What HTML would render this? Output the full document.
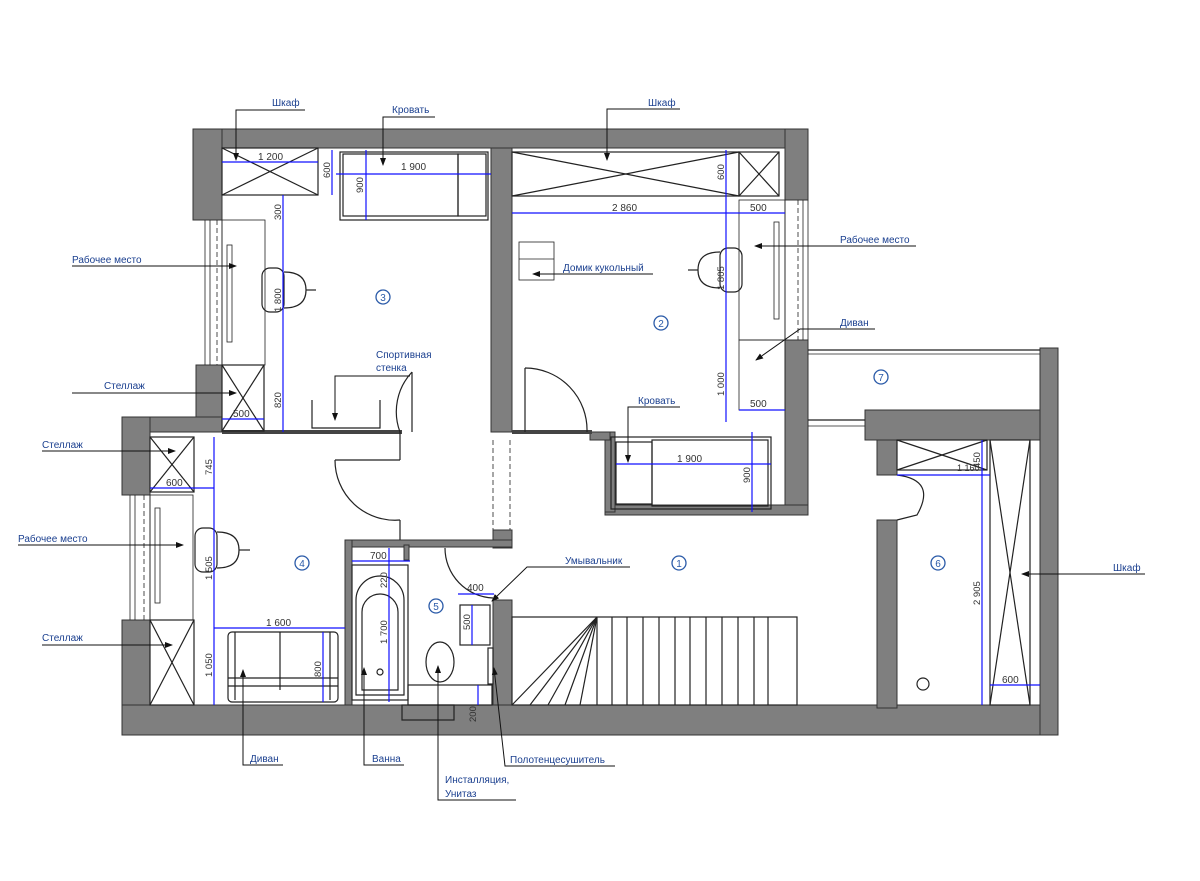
<!DOCTYPE html>
<html><head><meta charset="utf-8"><style>
html,body{margin:0;padding:0;background:#fff;}
svg{display:block;}
text{font-family:"Liberation Sans",sans-serif;}
.w{fill:#7f7f7f;stroke:#333;stroke-width:1;}
.l{fill:none;stroke:#222;stroke-width:1.2;}
.t{fill:none;stroke:#222;stroke-width:0.8;}
.d{stroke:#1010ff;stroke-width:1.2;fill:none;}
.dt{font-size:10px;fill:#333;}
.lb{font-size:10px;fill:#1a3f8f;}
.ld{stroke:#111;stroke-width:1;fill:none;}
.rc{fill:#fff;stroke:#2a5aa8;stroke-width:1.3;}
.rn{font-size:10px;fill:#2a5aa8;text-anchor:middle;}
</style></head><body>
<svg width="1200" height="881" viewBox="0 0 1200 881" xmlns="http://www.w3.org/2000/svg">
<defs><marker id="a" markerWidth="8" markerHeight="8" refX="7" refY="4" orient="auto"><path d="M0,1 L8,4 L0,7 z" fill="#111"/></marker></defs>

<!-- walls -->
<rect class="w" x="193" y="129" width="615" height="19"/>
<rect class="w" x="193" y="129" width="29" height="91"/>
<rect class="w" x="196" y="365" width="26" height="52"/>
<rect class="w" x="122" y="417" width="100" height="15"/>
<rect class="w" x="122" y="417" width="28" height="78"/>
<rect class="w" x="122" y="620" width="28" height="115"/>
<rect class="w" x="122" y="705" width="936" height="30"/>
<rect class="w" x="491" y="148" width="21" height="284"/>
<rect class="w" x="493" y="530" width="19" height="18"/>
<rect class="w" x="493" y="600" width="19" height="105"/>
<rect class="w" x="785" y="129" width="23" height="71"/>
<rect class="w" x="785" y="340" width="23" height="175"/>
<rect class="w" x="605" y="505" width="203" height="10"/>
<rect class="w" x="605" y="432" width="10" height="80"/>
<rect class="w" x="590" y="432" width="20" height="8"/>
<rect class="w" x="1040" y="348" width="18" height="387"/>
<rect class="w" x="865" y="410" width="175" height="30"/>
<rect class="w" x="877" y="440" width="20" height="35"/>
<rect class="w" x="877" y="520" width="20" height="188"/>
<rect class="w" x="345" y="540" width="167" height="7"/>
<rect class="w" x="345" y="540" width="7" height="165"/>
<rect class="w" x="404" y="545" width="5" height="15"/>
<!-- thin walls -->
<rect x="222" y="430" width="180" height="4" fill="#444"/>
<rect x="512" y="430" width="80" height="4" fill="#444"/>
<line class="l" x1="808" y1="350" x2="1040" y2="350"/>
<line class="t" x1="808" y1="354" x2="1040" y2="354"/>
<line class="l" x1="808" y1="420" x2="865" y2="420"/>
<line class="t" x1="808" y1="426" x2="865" y2="426"/>
<line class="l" x1="400" y1="432" x2="400" y2="460"/>
<line class="l" x1="400" y1="520" x2="400" y2="540"/>
<!-- windows -->
<g class="t"><line x1="205" y1="220" x2="205" y2="365"/><line x1="210" y1="220" x2="210" y2="365"/><line x1="222" y1="220" x2="222" y2="365"/><line x1="217" y1="220" x2="217" y2="365" stroke-dasharray="5,3"/>
<line x1="130" y1="495" x2="130" y2="620"/><line x1="135" y1="495" x2="135" y2="620"/><line x1="150" y1="495" x2="150" y2="620"/><line x1="144" y1="495" x2="144" y2="620" stroke-dasharray="5,3"/>
<line x1="798" y1="200" x2="798" y2="340" stroke-dasharray="5,3"/><line x1="803" y1="200" x2="803" y2="340"/><line x1="808" y1="200" x2="808" y2="340"/><line x1="785" y1="200" x2="785" y2="340"/>
<line x1="493" y1="440" x2="493" y2="530" stroke-dasharray="5,3"/><line x1="510" y1="440" x2="510" y2="530" stroke-dasharray="5,3"/></g>

<!-- wardrobes -->
<g class="l"><rect x="222" y="148" width="96" height="47"/><line x1="222" y1="148" x2="318" y2="195"/><line x1="318" y1="148" x2="222" y2="195"/>
<rect x="512" y="152" width="227" height="44"/><line x1="512" y1="152" x2="739" y2="196"/><line x1="739" y1="152" x2="512" y2="196"/>
<rect x="739" y="152" width="40" height="44"/><line x1="739" y1="152" x2="779" y2="196"/><line x1="779" y1="152" x2="739" y2="196"/>
<rect x="222" y="365" width="42" height="66"/><line x1="222" y1="365" x2="264" y2="431"/><line x1="264" y1="365" x2="222" y2="431"/>
<rect x="150" y="437" width="44" height="55"/><line x1="150" y1="437" x2="194" y2="492"/><line x1="194" y1="437" x2="150" y2="492"/>
<rect x="150" y="620" width="44" height="85"/><line x1="150" y1="620" x2="194" y2="705"/><line x1="194" y1="620" x2="150" y2="705"/>
<rect x="897" y="440" width="90" height="30"/><line x1="897" y1="440" x2="987" y2="470"/><line x1="987" y1="440" x2="897" y2="470"/>
<rect x="990" y="440" width="40" height="265"/><line x1="990" y1="440" x2="1030" y2="705"/><line x1="1030" y1="440" x2="990" y2="705"/></g>
<!-- desks -->
<g class="t"><rect x="222" y="220" width="43" height="145"/><rect x="227" y="245" width="5" height="97"/>
<rect x="150" y="495" width="43" height="125"/><rect x="155" y="508" width="5" height="95"/>
<rect x="739" y="200" width="46" height="140"/><rect x="774" y="222" width="5" height="97"/>
<rect x="739" y="340" width="46" height="70"/>
<rect x="519" y="242" width="35" height="38"/><line x1="519" y1="259" x2="554" y2="259"/></g>
<!-- beds -->
<g class="l"><rect x="340" y="152" width="148" height="68"/><rect x="343" y="154" width="115" height="62"/><rect x="458" y="154" width="28" height="62"/>
<rect x="611" y="437" width="160" height="72"/><rect x="616" y="442" width="36" height="62"/><rect x="652" y="440" width="116" height="66"/>
<rect x="228" y="632" width="110" height="70" rx="4"/><line x1="280" y1="632" x2="280" y2="690"/><line x1="228" y1="678" x2="338" y2="678"/><line x1="228" y1="686" x2="338" y2="686"/><line x1="235" y1="632" x2="235" y2="700"/><line x1="330" y1="632" x2="330" y2="700"/></g>
<!-- chairs -->
<g class="l"><rect x="262" y="268" width="22" height="44" rx="8"/><path d="M284,272 q22,0 22,18 q0,18 -22,18"/><line x1="306" y1="290" x2="316" y2="290"/>
<rect x="195" y="528" width="22" height="44" rx="8"/><path d="M217,532 q22,0 22,18 q0,18 -22,18"/><line x1="239" y1="550" x2="250" y2="550"/>
<rect x="720" y="248" width="22" height="44" rx="8"/><path d="M720,252 q-22,0 -22,18 q0,18 22,18"/><line x1="698" y1="270" x2="688" y2="270"/></g>
<!-- doors -->
<g class="l"><path d="M412,372 A58,58 0 0 0 400,432"/><line x1="412" y1="372" x2="412" y2="432"/>
<path d="M335,460 A60,60 0 0 0 400,520"/><line x1="335" y1="460" x2="400" y2="460"/>
<path d="M525,368 A62,62 0 0 1 587,432"/><line x1="525" y1="368" x2="525" y2="432"/>
<path d="M445,548 A50,50 0 0 0 493,598"/>
<path d="M897,475 q40,5 20,40 l-20,5"/></g>
<!-- bath -->
<g class="l"><rect x="352" y="565" width="56" height="135"/><path d="M356,695 V600 a24,24 0 0 1 48,0 V695 z"/><path d="M362,690 V612 a18,18 0 0 1 36,0 V690 z"/><circle cx="380" cy="672" r="3"/>
<ellipse cx="440" cy="662" rx="14" ry="20"/><rect x="408" y="685" width="84" height="20"/><rect x="402" y="705" width="52" height="15"/>
<rect x="460" y="605" width="30" height="40"/><rect x="488" y="648" width="5" height="36"/></g>
<!-- stairs -->
<g class="l"><rect x="512" y="617" width="285" height="88"/>
<line x1="597" y1="617" x2="597" y2="705"/><line x1="597" y1="617" x2="512" y2="705"/><line x1="597" y1="617" x2="530" y2="705"/><line x1="597" y1="617" x2="548" y2="705"/><line x1="597" y1="617" x2="565" y2="705"/><line x1="597" y1="617" x2="580" y2="705"/>
<line x1="612" y1="617" x2="612" y2="705"/><line x1="627" y1="617" x2="627" y2="705"/><line x1="643" y1="617" x2="643" y2="705"/><line x1="659" y1="617" x2="659" y2="705"/><line x1="675" y1="617" x2="675" y2="705"/><line x1="690" y1="617" x2="690" y2="705"/><line x1="706" y1="617" x2="706" y2="705"/><line x1="722" y1="617" x2="722" y2="705"/><line x1="738" y1="617" x2="738" y2="705"/><line x1="754" y1="617" x2="754" y2="705"/><line x1="768" y1="617" x2="768" y2="705"/>
<circle cx="923" cy="684" r="6"/>
<path d="M312,400 v28 h68 v-28"/></g>

<!-- dimensions -->
<g class="d"><line x1="222" y1="162" x2="318" y2="162"/><line x1="332" y1="150" x2="332" y2="195"/><line x1="336" y1="174" x2="491" y2="174"/><line x1="366" y1="150" x2="366" y2="220"/>
<line x1="283" y1="195" x2="283" y2="432"/><line x1="222" y1="419" x2="264" y2="419"/>
<line x1="512" y1="213" x2="785" y2="213"/><line x1="726" y1="150" x2="726" y2="422"/><line x1="739" y1="410" x2="785" y2="410"/>
<line x1="616" y1="464" x2="771" y2="464"/><line x1="752" y1="432" x2="752" y2="512"/>
<line x1="897" y1="475" x2="990" y2="475"/><line x1="982" y1="440" x2="982" y2="705"/><line x1="990" y1="685" x2="1040" y2="685"/>
<line x1="214" y1="437" x2="214" y2="705"/><line x1="150" y1="488" x2="214" y2="488"/><line x1="214" y1="628" x2="345" y2="628"/><line x1="323" y1="632" x2="323" y2="702"/>
<line x1="352" y1="561" x2="410" y2="561"/><line x1="389" y1="548" x2="389" y2="702"/><line x1="458" y1="594" x2="494" y2="594"/><line x1="472" y1="605" x2="472" y2="645"/><line x1="478" y1="685" x2="478" y2="705"/></g>
<g class="dt"><text x="258" y="160">1 200</text><text x="401" y="170">1 900</text><text x="612" y="211">2 860</text><text x="750" y="211">500</text><text x="750" y="407">500</text><text x="677" y="462">1 900</text><text x="957" y="471" font-size="9">1 160</text><text x="1002" y="683">600</text><text x="233" y="417">500</text><text x="166" y="486">600</text><text x="266" y="626">1 600</text><text x="370" y="559">700</text><text x="467" y="591">400</text>
<g font-size="9.5"><text transform="translate(330,178) rotate(-90)">600</text><text transform="translate(363,193) rotate(-90)">900</text><text transform="translate(281,220) rotate(-90)">300</text><text transform="translate(281,312) rotate(-90)">1 800</text><text transform="translate(281,408) rotate(-90)">820</text>
<text transform="translate(724,180) rotate(-90)">600</text><text transform="translate(724,290) rotate(-90)">1 805</text><text transform="translate(724,396) rotate(-90)">1 000</text><text transform="translate(750,483) rotate(-90)">900</text>
<text transform="translate(980,468) rotate(-90)">450</text><text transform="translate(980,605) rotate(-90)">2 905</text>
<text transform="translate(212,475) rotate(-90)">745</text><text transform="translate(212,580) rotate(-90)">1 505</text><text transform="translate(212,677) rotate(-90)">1 050</text><text transform="translate(321,677) rotate(-90)">800</text>
<text transform="translate(387,588) rotate(-90)">220</text><text transform="translate(387,644) rotate(-90)">1 700</text><text transform="translate(470,630) rotate(-90)">500</text><text transform="translate(476,722) rotate(-90)">200</text></g></g>

<!-- room numbers -->
<g><circle class="rc" cx="383" cy="297" r="7"/><text class="rn" x="383" y="301">3</text>
<circle class="rc" cx="661" cy="323" r="7"/><text class="rn" x="661" y="327">2</text>
<circle class="rc" cx="881" cy="377" r="7"/><text class="rn" x="881" y="381">7</text>
<circle class="rc" cx="302" cy="563" r="7"/><text class="rn" x="302" y="567">4</text>
<circle class="rc" cx="436" cy="606" r="7"/><text class="rn" x="436" y="610">5</text>
<circle class="rc" cx="679" cy="563" r="7"/><text class="rn" x="679" y="567">1</text>
<circle class="rc" cx="938" cy="563" r="7"/><text class="rn" x="938" y="567">6</text></g>

<!-- labels & leaders -->
<g class="ld">
<polyline points="305,110 236,110 236,160" marker-end="url(#a)"/>
<polyline points="435,117 383,117 383,165" marker-end="url(#a)"/>
<polyline points="680,109 607,109 607,160" marker-end="url(#a)"/>
<polyline points="72,266 236,266" marker-end="url(#a)"/>
<polyline points="916,246 755,246" marker-end="url(#a)"/>
<polyline points="653,274 533,274" marker-end="url(#a)"/>
<polyline points="875,329 800,329 756,360" marker-end="url(#a)"/>
<polyline points="410,376 335,376 335,420" marker-end="url(#a)"/>
<polyline points="72,393 236,393" marker-end="url(#a)"/>
<polyline points="680,407 628,407 628,462" marker-end="url(#a)"/>
<polyline points="42,451 175,451" marker-end="url(#a)"/>
<polyline points="18,545 183,545" marker-end="url(#a)"/>
<polyline points="42,645 172,645" marker-end="url(#a)"/>
<polyline points="630,567 527,567 492,601" marker-end="url(#a)"/>
<polyline points="1145,574 1022,574" marker-end="url(#a)"/>
<polyline points="283,765 243,765 243,670" marker-end="url(#a)"/>
<polyline points="404,765 364,765 364,668" marker-end="url(#a)"/>
<polyline points="516,800 438,800 438,666" marker-end="url(#a)"/>
<polyline points="615,766 505,766 494,668" marker-end="url(#a)"/>
</g>
<g class="lb">
<text x="272" y="106">Шкаф</text><text x="392" y="113">Кровать</text><text x="648" y="106">Шкаф</text>
<text x="72" y="263">Рабочее место</text><text x="840" y="243">Рабочее место</text><text x="563" y="271">Домик кукольный</text>
<text x="840" y="326">Диван</text><text x="376" y="358">Спортивная</text><text x="376" y="371">стенка</text>
<text x="104" y="389">Стеллаж</text><text x="638" y="404">Кровать</text><text x="42" y="448">Стеллаж</text>
<text x="18" y="542">Рабочее место</text><text x="42" y="641">Стеллаж</text><text x="565" y="564">Умывальник</text>
<text x="1113" y="571">Шкаф</text><text x="250" y="762">Диван</text><text x="372" y="762">Ванна</text>
<text x="445" y="783">Инсталляция,</text><text x="445" y="797">Унитаз</text><text x="510" y="763">Полотенцесушитель</text>
</g>
</svg>
</body></html>
